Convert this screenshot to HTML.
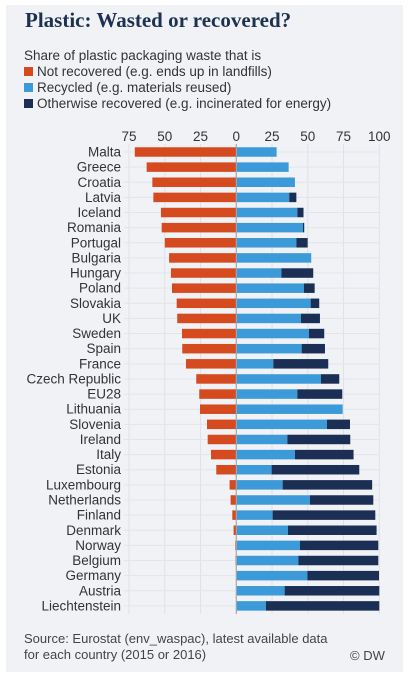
<!DOCTYPE html>
<html><head><meta charset="utf-8">
<style>
html,body{margin:0;padding:0;background:#fff;}
body{width:409px;height:679px;position:relative;overflow:hidden;font-family:"Liberation Sans","DejaVu Sans",sans-serif;}
#panel{position:absolute;left:6px;top:5px;width:397px;height:667px;background:#f0f2f5;}
.t{position:absolute;white-space:nowrap;color:#333;}
</style></head><body>
<div id="panel"></div>
<div class="t" style="left:25px;top:8px;font-family:'Liberation Serif',serif;font-weight:bold;font-size:21px;color:#1d3150;">Plastic: Wasted or recovered?</div>
<div class="t" style="left:24px;top:48px;font-size:13.5px;">Share of plastic packaging waste that is</div>
<div class="t" style="left:24px;top:64px;font-size:13.5px;"><span style="display:inline-block;width:9px;height:9px;background:#d64a20;margin-right:4px;"></span>Not recovered (e.g. ends up in landfills)</div>
<div class="t" style="left:24px;top:80px;font-size:13.5px;"><span style="display:inline-block;width:9px;height:9px;background:#3d9ad8;margin-right:4px;"></span>Recycled (e.g. materials reused)</div>
<div class="t" style="left:24px;top:96px;font-size:13.5px;"><span style="display:inline-block;width:9px;height:9px;background:#1b2f55;margin-right:4px;"></span>Otherwise recovered (e.g. incinerated for energy)</div>
<svg id="chart" width="409" height="679" style="position:absolute;left:0;top:0;"></svg>
<div class="t" style="left:24px;top:631px;font-size:13px;color:#444;line-height:16px;">Source: Eurostat (env_waspac), latest available data<br>for each country (2015 or 2016)</div>
<div class="t" style="left:350px;top:648px;font-size:13px;color:#444;">© DW</div>
<script>
const countries=["Malta","Greece","Croatia","Latvia","Iceland","Romania","Portugal","Bulgaria","Hungary","Poland","Slovakia","UK","Sweden","Spain","France","Czech Republic","EU28","Lithuania","Slovenia","Ireland","Italy","Estonia","Luxembourg","Netherlands","Finland","Denmark","Norway","Belgium","Germany","Austria","Liechtenstein"];
const notRecovered=[71,62.7,58.7,58,52.7,52.2,50,47,45.7,45,41.7,41.3,38,37.8,35.2,28,25.9,25.4,20.5,20,17.7,14,4.7,4,2.8,1.9,0.7,0.5,0.2,0,0];
const recycled=[28.2,36.6,41,37,42.7,46.6,42,52.4,31.5,47.3,52,45.2,50.8,45.7,25.9,59.2,42.7,74.4,63.4,35.7,41,24.7,32.4,51.5,25.4,36.1,44.5,43.4,49.7,33.8,20.7];
const otherRecovered=[0,0,0,5,4.3,0.9,7.9,0,22.3,7.5,6,13.3,10.7,16.3,38.4,12.8,31.4,0,16.1,44,41,61.3,62.6,44.3,71.8,62,54.8,55.9,50.1,66.2,79.3];
const ticks=[-75,-50,-25,0,25,50,75,100];
const tickLabels=["75","50","25","0","25","50","75","100"];
const svg=document.getElementById('chart');
const NS='http://www.w3.org/2000/svg';
const x0=236.3, k=1.43, y0=152, step=15.13, bh=9.5;
const xs=v=>x0+v*k;
const ys=i=>y0+i*step;
function mk(tag,attrs){const e=document.createElementNS(NS,tag);for(const a in attrs)e.setAttribute(a,attrs[a]);svg.appendChild(e);return e;}
ticks.forEach((t,i)=>{
  const g=mk('line',{x1:xs(t),x2:xs(t),y1:144,y2:614,stroke:t===0?'#aaa':'#dfe2e7','stroke-width':1});
  
  
  const tl=mk('text',{x:xs(t),y:141,'text-anchor':'middle','font-size':13.5,fill:'#333','font-family':'Liberation Sans, sans-serif'});
  tl.textContent=tickLabels[i];
  
  
});
countries.forEach((c,i)=>{
  const y=ys(i);
  const hl=mk('line',{x1:124,x2:xs(100),y1:y,y2:y,stroke:'#e2e5ea','stroke-width':1});
  
  
  const lb=mk('text',{x:121,y:y+4.5,'text-anchor':'end','font-size':13.5,fill:'#333','font-family':'Liberation Sans, sans-serif'});
  lb.textContent=c;
  
  
  const a=mk('rect',{x:xs(-notRecovered[i]),y:y-bh/2,width:notRecovered[i]*k,height:bh,fill:'#d64a20'});
  
  
  const b=mk('rect',{x:xs(0),y:y-bh/2,width:recycled[i]*k,height:bh,fill:'#3d9ad8'});
  
  
  const d=mk('rect',{x:xs(recycled[i]),y:y-bh/2,width:otherRecovered[i]*k,height:bh,fill:'#1b2f55'});
  
  
});
const z=mk('line',{x1:x0,x2:x0,y1:144,y2:614,stroke:'#aaa','stroke-width':1});


</script>
</body></html>
